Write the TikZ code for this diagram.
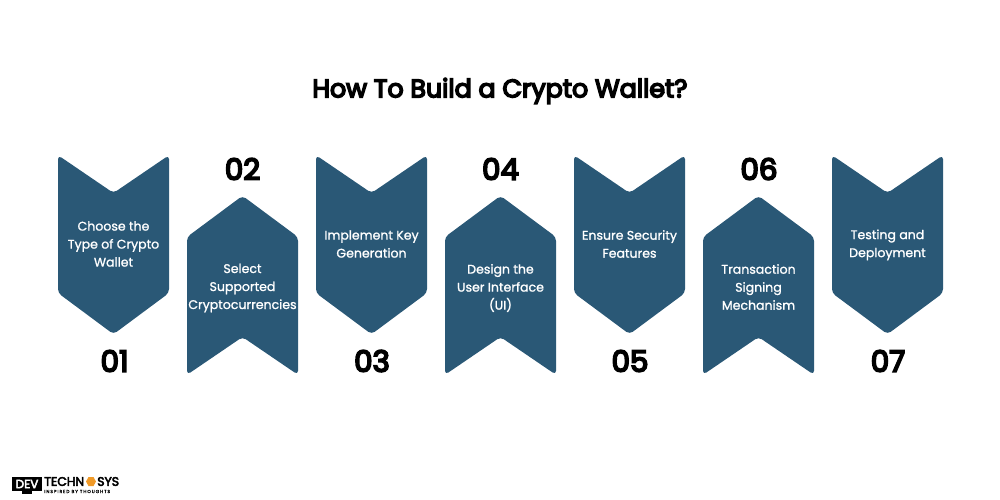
\documentclass[tikz,border=0pt]{standalone}
\usepackage{fontspec}
\setmainfont{Poppins}
\newfontfamily\medfont{Poppins}[FakeBold=1.2]
\newfontfamily\headfont{Poppins}[FakeBold=6]
\newfontfamily\logofont{Poppins}[FakeBold=4]
\newfontfamily\tagfont{Poppins}[LetterSpace=22,FakeBold=1]
\definecolor{tile}{HTML}{2A5876}
\definecolor{logoorange}{HTML}{F09A28}
\newcommand{\downtile}[1]{\fill[tile,rounded corners=3pt] (#1,155.2)--(#1+55.5,193)--(#1+111,155.2)--(#1+111,293)--(#1+55.5,334.2)--(#1,293)--cycle;}
\newcommand{\uptile}[1]{\fill[tile,rounded corners=3pt] (#1,237)--(#1+55.5,195.8)--(#1+111,237)--(#1+111,374.8)--(#1+55.5,337)--(#1,374.8)--cycle;}
\tikzset{
  x=0.75pt,y=-0.75pt,
  label text/.style={text=white,align=center,font=\medfont\fontsize{9.4}{13.5}\selectfont,inner sep=0pt},
  num text/.style={text=black,font=\headfont\fontsize{22}{24}\selectfont,inner sep=0pt},
  title text/.style={text=black,font=\headfont\fontsize{19}{24}\selectfont,inner sep=0pt}
}
\begin{document}
\begin{tikzpicture}
\useasboundingbox (0,0) rectangle (1000,500);
\node[title text] (title) at (500,91) {How To Build a Crypto Wallet?};
\downtile{58}\uptile{187}\downtile{316}\uptile{445}\downtile{574}\uptile{703}\downtile{832}
\node[label text] (t1) at (113.5,244) {Choose the\\Type of Crypto\\Wallet};
\node[label text] (t2) at (242.5,288) {Select\\Supported\\Cryptocurrencies};
\node[label text] (t3) at (371.5,244) {Implement Key\\Generation};
\node[label text] (t4) at (500.5,288) {Design the\\User Interface\\(UI)};
\node[label text] (t5) at (629.5,244) {Ensure Security\\Features};
\node[label text] (t6) at (758.5,287) {Transaction\\Signing\\Mechanism};
\node[label text] (t7) at (887.5,245) {Testing and\\Deployment};
\node[num text] (n1) at (114.5,361) {01};
\node[num text] (n2) at (242.5,169) {02};
\node[num text] (n3) at (372,361) {03};
\node[num text] (n4) at (500.5,169) {04};
\node[num text] (n5) at (630,361) {05};
\node[num text] (n6) at (759,169) {06};
\node[num text] (n7) at (888,361) {07};
% logo
\fill[black] (12,477) rectangle (42,491);
\fill[black] (22,491) rectangle (32,494);
\node[text=white,font=\logofont\fontsize{9}{9}\selectfont,inner sep=0pt] (ldev) at (27,484) {DEV};
\node[anchor=west,text=black,font=\logofont\fontsize{9.3}{9}\selectfont,inner sep=0pt] (ltech) at (44,481.5) {TECHN};
\fill[logoorange] (86,481.5) -- (88.5,477) -- (93.5,477) -- (96,481.5) -- (93.5,486) -- (88.5,486) -- cycle;
\node[anchor=west,text=black,font=\logofont\fontsize{9.3}{9}\selectfont,inner sep=0pt] (lsys) at (97,481.5) {SYS};
\node[anchor=west,text=black,font=\tagfont\fontsize{3.3}{3.3}\selectfont,inner sep=0pt] (ltag) at (44,491.5) {INSPIRED BY THOUGHTS};
\end{tikzpicture}
\end{document}
